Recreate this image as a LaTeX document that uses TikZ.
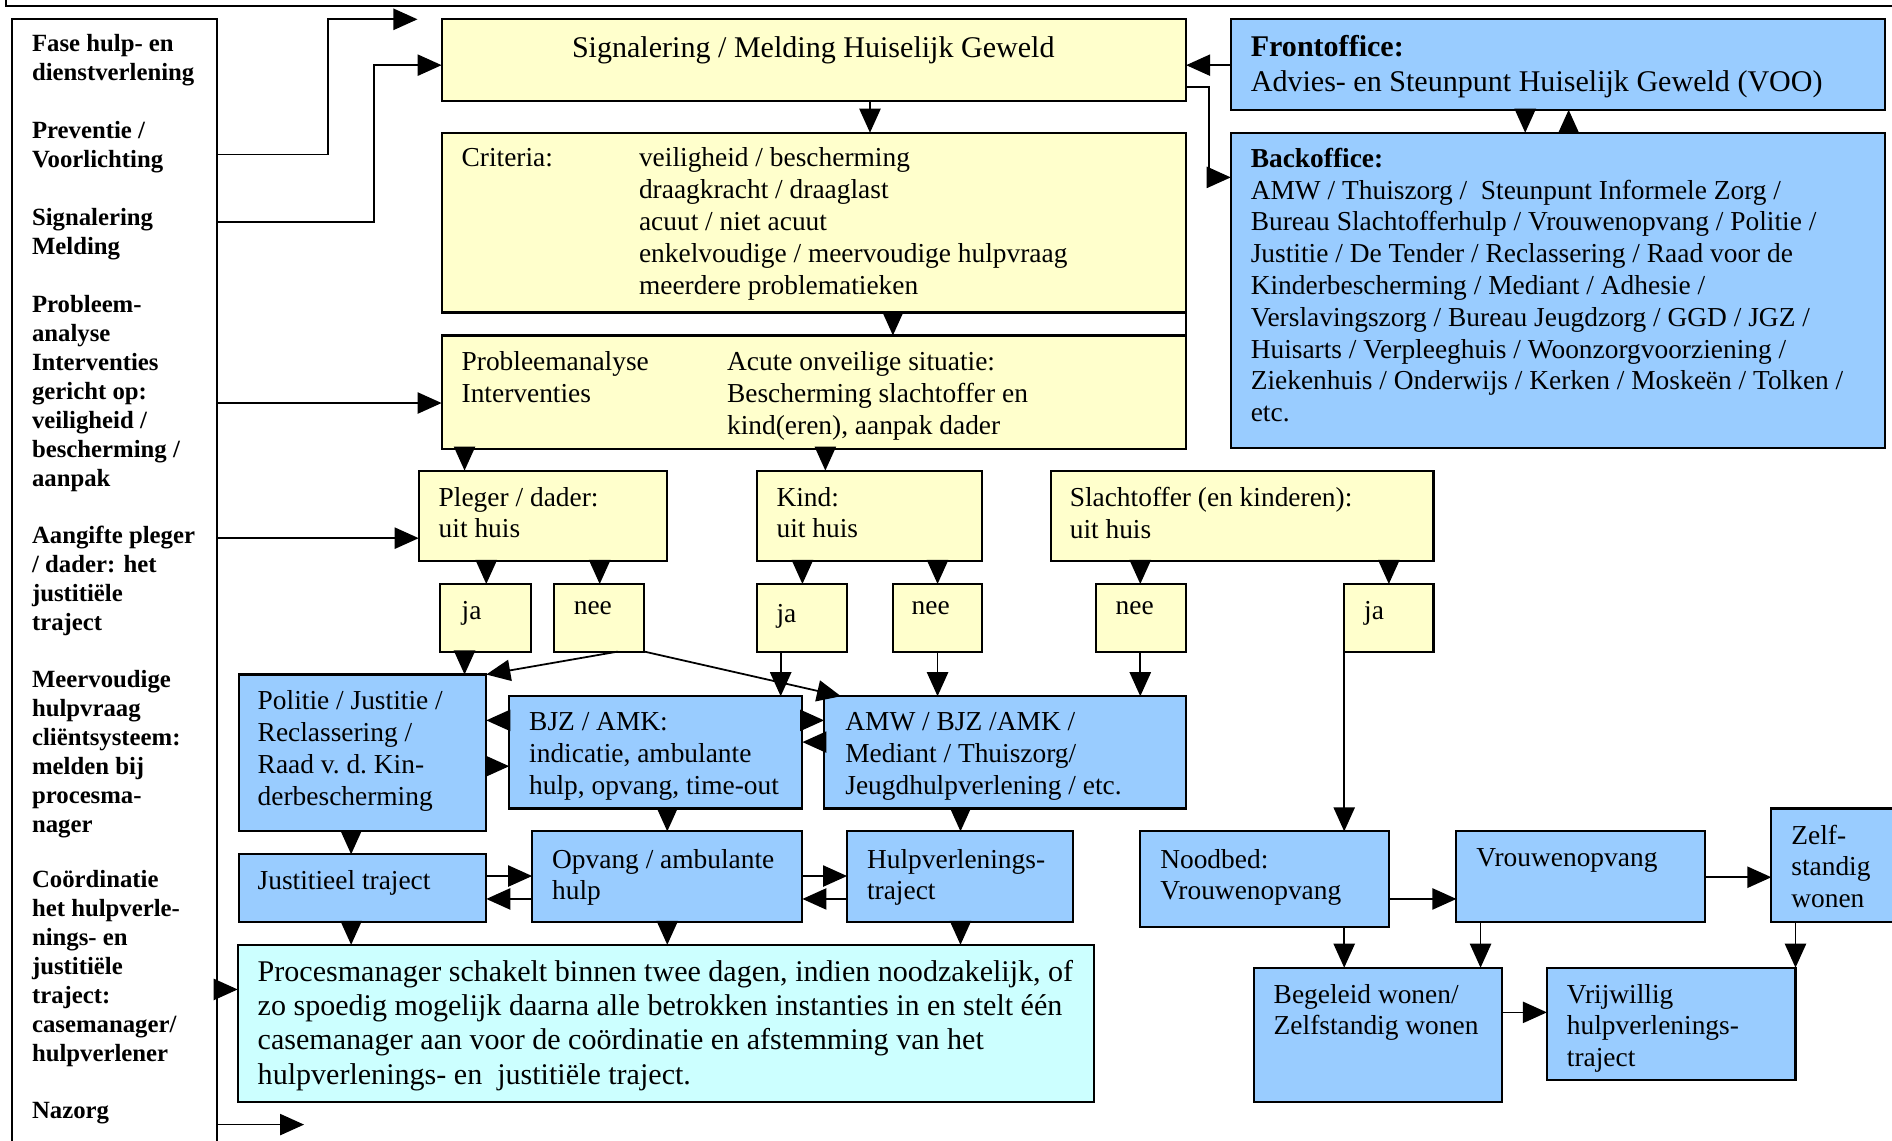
\documentclass[tikz,border=0pt]{standalone}
\usepackage{fontspec}
\setmainfont{Liberation Serif}
\usetikzlibrary{arrows.meta, fit}

\definecolor{geel}{HTML}{FFFFCC}
\definecolor{blauw}{HTML}{99CCFF}
\definecolor{cyaan}{HTML}{CCFFFF}

\begin{document}
\begin{tikzpicture}[x=0.012cm, y=-0.012cm,
        blok/.style={draw, line width=0.6pt, inner sep=0pt, outer sep=0pt},
        geelblok/.style={blok, fill=geel},
        blauwblok/.style={blok, fill=blauw},
        pijl/.style={-{Triangle[length=6.8pt,width=6pt]}, line width=0.5pt},
        tekst/.style={anchor=north west, align=left, inner sep=0pt, font=\fontsize{7.75}{9}\selectfont},
        groot/.style={tekst, font=\fontsize{8.5}{9.7}\selectfont},
        fase/.style={tekst, font=\fontsize{7}{8.2}\selectfont\bfseries}]
        \useasboundingbox (0,0) rectangle (1568,945);
        \draw[line width=0.8pt] (5,0) -- (5,5) -- (1580,5);
        
        % blokken
        \node[blok, fill=white, fit={(10,16) (180,960)}] (kolom) {};
        \node[geelblok, fit={(366,16) (983,84)}] (sig) {};
        \node[geelblok, fit={(366,110) (983,259)}] (crit) {};
        \node[geelblok, fit={(366,278) (983,372)}] (prob) {};
        \node[blauwblok, fit={(1020,16) (1562,91)}] (front) {};
        \node[blauwblok, fit={(1020,110) (1562,371)}] (back) {};
        \node[geelblok, fit={(347,390) (553,465)}] (pleger) {};
        \node[geelblok, fit={(627,390) (814,465)}] (kind) {};
        \node[geelblok, fit={(871,390) (1188,465)}] (slacht) {};
        \node[geelblok, fit={(365,484) (440,540)}] (ja1) {};
        \node[geelblok, fit={(459,484) (534,540)}] (nee1) {};
        \node[geelblok, fit={(627,484) (702,540)}] (ja2) {};
        \node[geelblok, fit={(740,484) (814,540)}] (nee2) {};
        \node[geelblok, fit={(908,484) (983,540)}] (nee3) {};
        \node[geelblok, fit={(1114,484) (1188,540)}] (ja3) {};
        \node[blauwblok, fit={(198,559) (403,689)}] (politie) {};
        \node[blauwblok, fit={(422,577) (665,670)}] (bjz) {};
        \node[blauwblok, fit={(683,577) (983,670)}] (amw) {};
        \node[blauwblok, fit={(198,708) (403,764)}] (just) {};
        \node[blauwblok, fit={(441,689) (665,764)}] (opvang) {};
        \node[blauwblok, fit={(702,689) (889,764)}] (hulp) {};
        \node[blok, fill=cyaan, fit={(197,783) (907,913)}] (proc) {};
        \node[blauwblok, fit={(945,689) (1151,768)}] (nood) {};
        \node[blauwblok, fit={(1207,689) (1413,764)}] (vrouw) {};
        \node[blauwblok, fit={(1468,670) (1580,764)}] (zelf) {};
        \node[blauwblok, fit={(1039,802) (1245,913)}] (begel) {};
        \node[blauwblok, fit={(1282,802) (1488,895)}] (vrijw) {};
        
        % fasen links
        \foreach \y/\t in {36/{Fase hulp- en\\dienstverlening},
                108/{Preventie /\\Voorlichting},
                180/{Signalering\\Melding},
                252/{Probleem-\\analyse\\Interventies\\gericht op:\\veiligheid /\\bescherming /\\aanpak},
                443/{Aangifte pleger\\/ dader: het\\justitiële\\traject},
                563/{Meervoudige\\hulpvraag\\cliëntsysteem:\\melden bij\\procesma-\\nager},
                729/{Coördinatie\\het hulpverle-\\nings- en\\justitiële\\traject:\\casemanager/\\hulpverlener},
                921/{Nazorg}}
        {
            \node[fase] (f\y) at (26,\y-8) {\t};
        };
        
        % teksten
        \node[groot, anchor=north] (tsig) at (674,30) {Signalering / Melding Huiselijk Geweld};
        \node[tekst] (tcrit) at (382,122) {Criteria:};
        \node[tekst] (tcrit2) at (529,122) {veiligheid / bescherming\\draagkracht / draaglast\\acuut / niet acuut\\enkelvoudige / meervoudige hulpvraag\\meerdere problematieken};
        \node[tekst] (tprob) at (382,291) {Probleemanalyse\\Interventies};
        \node[tekst] (tprob2) at (602,291) {Acute onveilige situatie:\\Bescherming slachtoffer en\\kind(eren), aanpak dader};
        \node[groot] (tfront) at (1036,29) {\textbf{Frontoffice:}\\Advies- en Steunpunt Huiselijk Geweld (VOO)};
        \node[tekst] (tback) at (1036,122) {\textbf{Backoffice:}\\AMW / Thuiszorg /\ \ Steunpunt Informele Zorg /\\Bureau Slachtofferhulp / Vrouwenopvang / Politie /\\Justitie / De Tender / Reclassering / Raad voor de\\Kinderbescherming / Mediant / Adhesie /\\Verslavingszorg / Bureau Jeugdzorg / GGD / JGZ /\\Huisarts / Verpleeghuis / Woonzorgvoorziening /\\Ziekenhuis / Onderwijs / Kerken / Moskeën / Tolken /\\etc.};
        \node[tekst] (tpleger) at (363,403) {Pleger / dader:\\uit huis};
        \node[tekst] (tkind) at (643,403) {Kind:\\uit huis};
        \node[tekst] (tslacht) at (886,403) {Slachtoffer (en kinderen):\\uit huis};
        \node[tekst] (tja1) at (382,498) {ja};
        \node[tekst] (tnee1) at (475,498) {nee};
        \node[tekst] (tja2) at (643,500) {ja};
        \node[tekst] (tnee2) at (755,498) {nee};
        \node[tekst] (tnee3) at (924,498) {nee};
        \node[tekst] (tja3) at (1130,498) {ja};
        \node[tekst] (tpolitie) at (213,572) {Politie / Justitie /\\Reclassering /\\Raad v.\ d.\ Kin-\\derbescherming};
        \node[tekst] (tbjz) at (438,590) {BJZ / AMK:\\indicatie, ambulante\\hulp, opvang, time-out};
        \node[tekst] (tamw) at (700,590) {AMW / BJZ /AMK /\\Mediant / Thuiszorg/\\Jeugdhulpverlening / etc.};
        \node[tekst] (tjust) at (213,721) {Justitieel traject};
        \node[tekst] (topvang) at (457,703) {Opvang / ambulante\\hulp};
        \node[tekst] (thulp) at (718,703) {Hulpverlenings-\\traject};
        \node[groot] (tproc) at (213,795) {Procesmanager schakelt binnen twee dagen, indien noodzakelijk, of\\zo spoedig mogelijk daarna alle betrokken instanties in en stelt één\\casemanager aan voor de coördinatie en afstemming van het\\hulpverlenings- en\ \ justitiële traject.};
        \node[tekst] (tnood) at (961,703) {Noodbed:\\Vrouwenopvang};
        \node[tekst] (tvrouw) at (1223,703) {Vrouwenopvang};
        \node[tekst] (tzelf) at (1484,683) {Zelf-\\standig\\wonen};
        \node[tekst] (tbegel) at (1055,815) {Begeleid wonen/\\Zelfstandig wonen};
        \node[tekst] (tvrijw) at (1298,815) {Vrijwillig\\hulpverlenings-\\traject};
        
        % pijlen uit de fasen
        \coordinate (eind1) at (346,16);
        \coordinate (eind2) at (252,932);
        \draw[pijl] (kolom.east |- 0,128) -| (272,16) -- (eind1);
        \draw[pijl] (kolom.east |- 0,184) -| (310,54) -- (sig.west |- 0,54);
        \draw[pijl] (kolom.east |- 0,334) -- (prob.west |- 0,334);
        \draw[pijl] (kolom.east |- 0,446) -- (pleger.west |- 0,446);
        \draw[pijl] (kolom.east |- 0,820) -- (proc.west |- 0,820);
        \draw[pijl] (kolom.east |- 0,932) -- (eind2);
        
        % front- en backoffice
        \draw[pijl] (sig.east |- 0,72) -| (1002,147) -- (back.west |- 0,147);
        \draw[pijl] (1300,0 |- back.north) -- (1300,0 |- front.south);
        \draw[line width=0.6pt] (crit.south east) -- (prob.north east);
        
        % pijlen naar beneden
        \foreach \x/\a/\b in {721/sig/crit, 740/crit/prob, 385/prob/pleger, 684/prob/kind,
                1264/front/back, 403/pleger/ja1, 497/pleger/nee1, 665/kind/ja2,
                777/kind/nee2, 945/slacht/nee3, 1151/slacht/ja3, 385/ja1/politie,
                647/ja2/bjz, 777/nee2/amw, 945/nee3/amw, 1114/ja3/nood,
                291/politie/just, 553/bjz/opvang, 796/amw/hulp, 291/just/proc,
                553/opvang/proc, 796/hulp/proc, 1114/nood/begel, 1227/vrouw/begel,
                1488/zelf/vrijw}
        {
            \draw[pijl] (\x,0 |- \a.south) -- (\x,0 |- \b.north);
        };
        
        % pijlen opzij
        \foreach \y/\a/\b in {54/front.west/sig.east, 597/bjz.west/politie.east,
                635/politie.east/bjz.west, 597/bjz.east/amw.west, 615/amw.west/bjz.east,
                726/just.east/opvang.west, 745/opvang.west/just.east,
                726/opvang.east/hulp.west, 745/hulp.west/opvang.east,
                745/nood.east/vrouw.west, 727/vrouw.east/zelf.west,
                839/begel.east/vrijw.west}
        {
            \draw[pijl] (\a |- 0,\y) -- (\b |- 0,\y);
        };
        
        % schuine pijlen
        \draw[pijl] (512,0 |- nee1.south) -- (politie.north east);
        \draw[pijl] (nee1.south east) -- (697,0 |- amw.north);
    \end{tikzpicture}
\end{document}
